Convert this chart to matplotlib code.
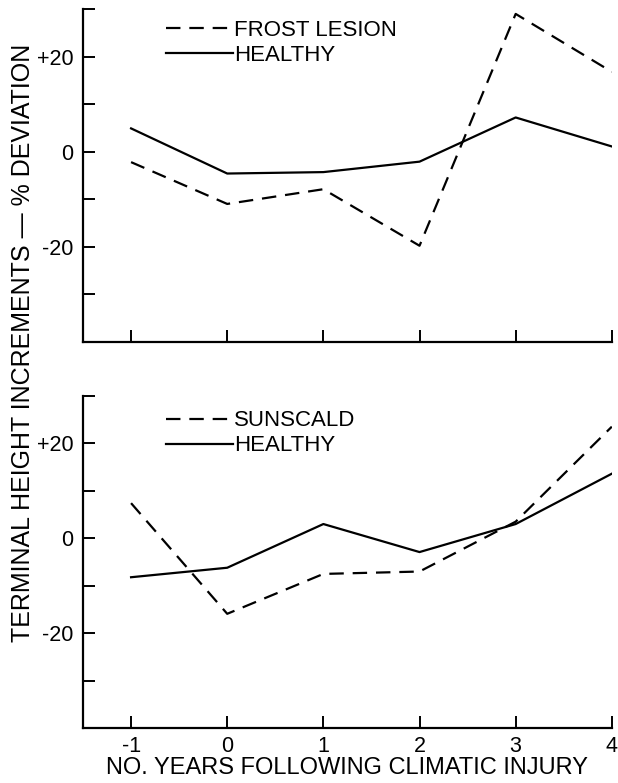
import matplotlib
matplotlib.use('Agg')
import matplotlib.pyplot as plt

# years relative to injury
years = [-1, 0, 1, 2, 3, 4]

# top panel: frost lesion vs healthy (% deviation)
frost = [-2.2, -11.0, -7.9, -19.8, 29.0, 16.8]
healthy_top = [4.9, -4.6, -4.3, -2.1, 7.2, 1.1]

# bottom panel: sunscald vs healthy
sunscald = [7.4, -15.9, -7.5, -7.0, 3.5, 23.5]
healthy_bot = [-8.2, -6.2, 3.0, -2.9, 3.0, 13.6]

ytick_vals = [-30, -20, -10, 0, 10, 20, 30]
ytick_labels = ['', '-20', '', '0', '', '+20', '']

plt.rcParams['font.family'] = ['Liberation Sans', 'DejaVu Sans']

fig = plt.figure(figsize=(6.18, 7.83), dpi=100)
ax_top = fig.add_axes([0.1343, 0.5636, 0.8557, 0.4247])
ax_bot = fig.add_axes([0.1343, 0.0699, 0.8557, 0.4246])

panels = [
    (ax_top, frost, healthy_top, 'FROST LESION', 0.968),
    (ax_bot, sunscald, healthy_bot, 'SUNSCALD', 0.956),
]

for ax, injured, healthy, name, leg_y in panels:
    l1, = ax.plot(years, injured, color='black', lw=1.6, label=name)
    l1.set_dashes([6.5, 4])
    ax.plot(years, healthy, color='black', lw=1.6, label='HEALTHY')

    ax.set_xlim(-1.5, 4)
    ax.set_ylim(-40, 30)
    ax.set_yticks(ytick_vals)
    ax.set_yticklabels(ytick_labels)
    ax.set_xticks(years)
    ax.spines['top'].set_visible(False)
    ax.spines['right'].set_visible(False)
    for s in ['left', 'bottom']:
        ax.spines[s].set_linewidth(1.6)
    ax.tick_params(direction='in', length=8.5, width=1.4, labelsize=15.5)
    ax.tick_params(axis='y', pad=7)
    ax.tick_params(axis='x', pad=5.5)
    ax.patch.set_alpha(0)

    ax.legend(loc='upper left', bbox_to_anchor=(0.157, leg_y), frameon=False,
              fontsize=16, handlelength=3.0, borderpad=0,
              handletextpad=0.05, labelspacing=0.18, borderaxespad=0)

ax_top.tick_params(axis='x', labelbottom=False)
ax_bot.set_xticklabels(['-1', '0', '1', '2', '3', '4'])
ax_bot.set_xlabel('NO. YEARS FOLLOWING CLIMATIC INJURY', fontsize=17,
                  labelpad=0)

fig.text(0.038, 0.5626, 'TERMINAL HEIGHT INCREMENTS \u2014 % DEVIATION',
         rotation=90, ha='center', va='center', fontsize=18)

fig.savefig('out.png', dpi=100)
